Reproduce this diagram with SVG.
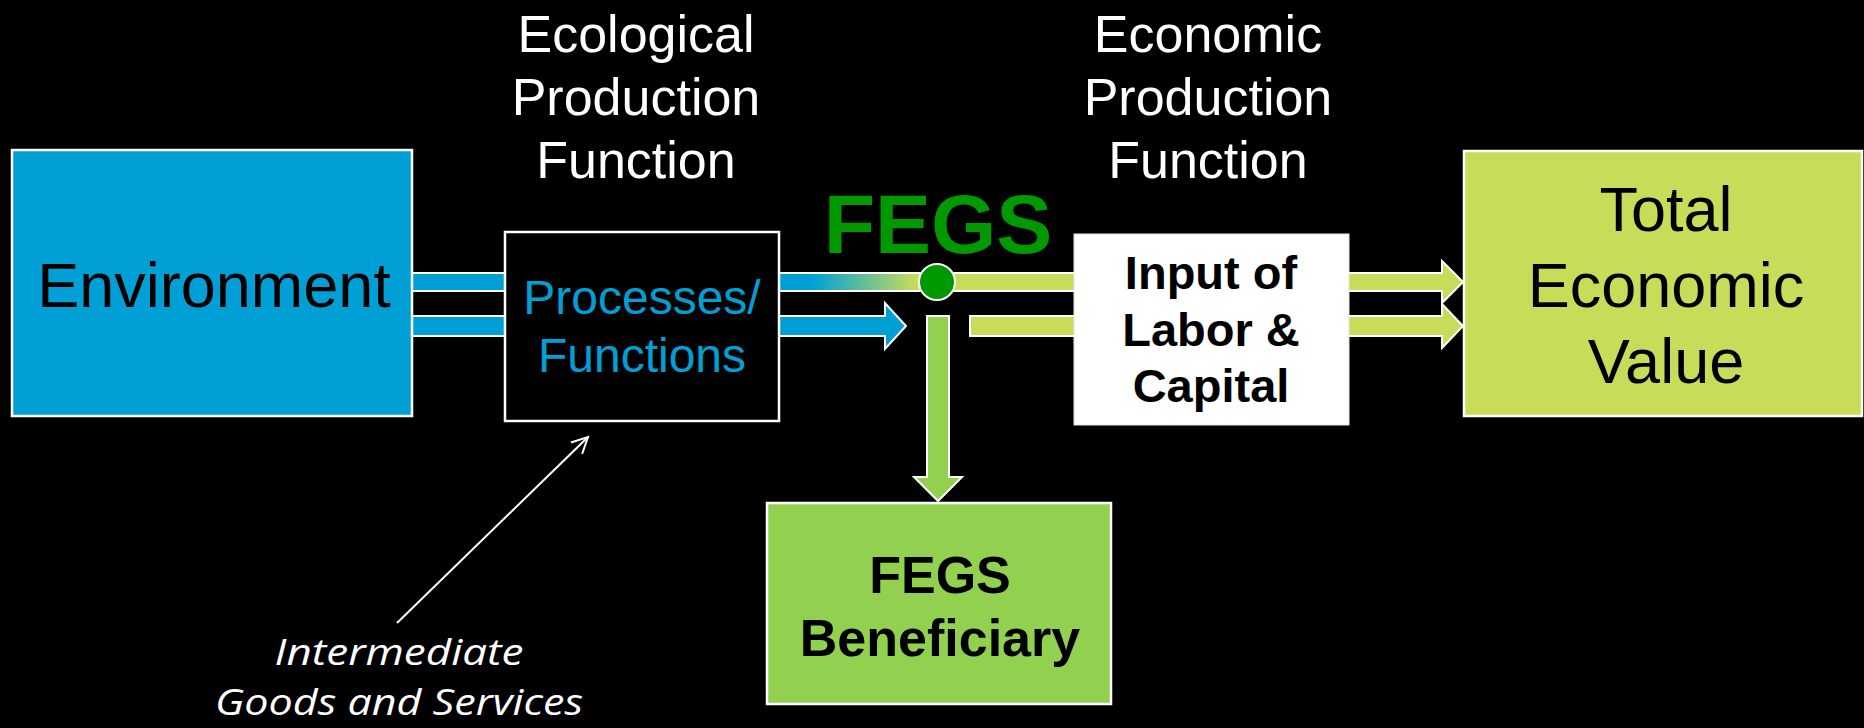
<svg xmlns="http://www.w3.org/2000/svg" width="1864" height="728" viewBox="0 0 1864 728">
  <defs>
    <style>
      .box { stroke: #ffffff; stroke-width: 2.5; }
      .bar { stroke: #ffffff; stroke-width: 2; stroke-linejoin: miter; }
      .blue { fill: #00a0d6; }
      .lime { fill: #c8dc5a; }
      .lgreen { fill: #92d050; }
      .sans { font-family: "Liberation Sans", Arial, sans-serif; text-anchor: middle; }
      .bold { font-weight: bold; }
      .ital { font-family: "Open Sans", "Liberation Sans", sans-serif; font-style: italic; text-anchor: middle; fill: #ffffff; }
    </style>
    <linearGradient id="grad" gradientUnits="userSpaceOnUse" x1="812" y1="0" x2="916" y2="0">
      <stop offset="0" stop-color="#00a0d6"/>
      <stop offset="1" stop-color="#c8dc5a"/>
    </linearGradient>
    <marker id="open" markerWidth="20" markerHeight="20" refX="17" refY="10" orient="auto" markerUnits="userSpaceOnUse">
      <path d="M1,2 L17,10 L1,18" fill="none" stroke="#ffffff" stroke-width="2"/>
    </marker>
  </defs>
  <rect width="1864" height="728" fill="#000000"/>

  <g id="connectors">
    <!-- Environment to Processes -->
    <rect class="bar blue" x="408" y="273" width="98" height="18"/>
    <rect class="bar blue" x="408" y="316" width="98" height="20"/>
    <!-- Processes to FEGS node (gradient) -->
    <rect class="bar" fill="url(#grad)" x="778" y="273" width="145" height="18"/>
    <!-- Processes second arrow -->
    <polygon class="bar blue" points="778,316 885,316 885,303 906,326 885,349 885,336 778,336"/>
    <!-- FEGS to Input -->
    <rect class="bar lime" x="950" y="273" width="126" height="18"/>
    <rect class="bar lime" x="970" y="316" width="106" height="20"/>
    <!-- Input to TEV arrows -->
    <polygon class="bar lime" points="1348,273 1442,273 1442,261 1463,282 1442,303 1442,291 1348,291"/>
    <polygon class="bar lime" points="1348,316 1442,316 1442,304 1463,326 1442,348 1442,336 1348,336"/>
    <!-- FEGS down to Beneficiary -->
    <polygon class="bar lgreen" points="927,316 949,316 949,477 962,477 938,501 914,477 927,477"/>
    <!-- Intermediate goods pointer -->
    <line x1="397" y1="623" x2="588" y2="437" stroke="#ffffff" stroke-width="2" marker-end="url(#open)"/>
  </g>

  <g id="fegs-node">
    <circle cx="937" cy="282" r="18" fill="#009900" stroke="#ffffff" stroke-width="2"/>
    <text class="sans bold" x="938" y="253" font-size="84" fill="#009900">FEGS</text>
  </g>

  <g id="environment">
    <rect class="box blue" x="12" y="150" width="400" height="266"/>
    <text class="sans" x="214" y="307" font-size="63" fill="#000000">Environment</text>
  </g>

  <g id="processes">
    <rect class="box" fill="#000000" x="505" y="232" width="274" height="189"/>
    <text class="sans" x="642" y="314" font-size="48" fill="#00a0d6">Processes/</text>
    <text class="sans" x="642" y="372" font-size="48" fill="#00a0d6">Functions</text>
  </g>

  <g id="ecological-label">
    <text class="sans" x="636" y="52" font-size="52" fill="#ffffff">Ecological</text>
    <text class="sans" x="636" y="115" font-size="52" fill="#ffffff">Production</text>
    <text class="sans" x="636" y="178" font-size="52" fill="#ffffff">Function</text>
  </g>

  <g id="economic-label">
    <text class="sans" x="1208" y="52" font-size="52" fill="#ffffff">Economic</text>
    <text class="sans" x="1208" y="115" font-size="52" fill="#ffffff">Production</text>
    <text class="sans" x="1208" y="178" font-size="52" fill="#ffffff">Function</text>
  </g>

  <g id="input">
    <rect fill="#ffffff" stroke="#e6e6e6" stroke-width="1" x="1074" y="234" width="275" height="191"/>
    <text class="sans bold" x="1211" y="289" font-size="47" fill="#000000">Input of</text>
    <text class="sans bold" x="1211" y="346" font-size="47" fill="#000000">Labor &amp;</text>
    <text class="sans bold" x="1211" y="402" font-size="47" fill="#000000">Capital</text>
  </g>

  <g id="total-economic-value">
    <rect class="box lime" x="1464" y="151" width="398" height="265"/>
    <text class="sans" x="1666" y="231" font-size="63" fill="#000000">Total</text>
    <text class="sans" x="1666" y="307" font-size="63" fill="#000000">Economic</text>
    <text class="sans" x="1666" y="383" font-size="63" fill="#000000">Value</text>
  </g>

  <g id="beneficiary">
    <rect class="box lgreen" x="767" y="503" width="344" height="201"/>
    <text class="sans bold" x="940" y="593" font-size="52" fill="#000000">FEGS</text>
    <text class="sans bold" x="940" y="656" font-size="52" fill="#000000">Beneficiary</text>
  </g>

  <g id="intermediate-label">
    <text class="ital" x="399" y="665" font-size="37" textLength="249" lengthAdjust="spacingAndGlyphs">Intermediate</text>
    <text class="ital" x="399" y="715" font-size="37" textLength="368" lengthAdjust="spacingAndGlyphs">Goods and Services</text>
  </g>
</svg>
